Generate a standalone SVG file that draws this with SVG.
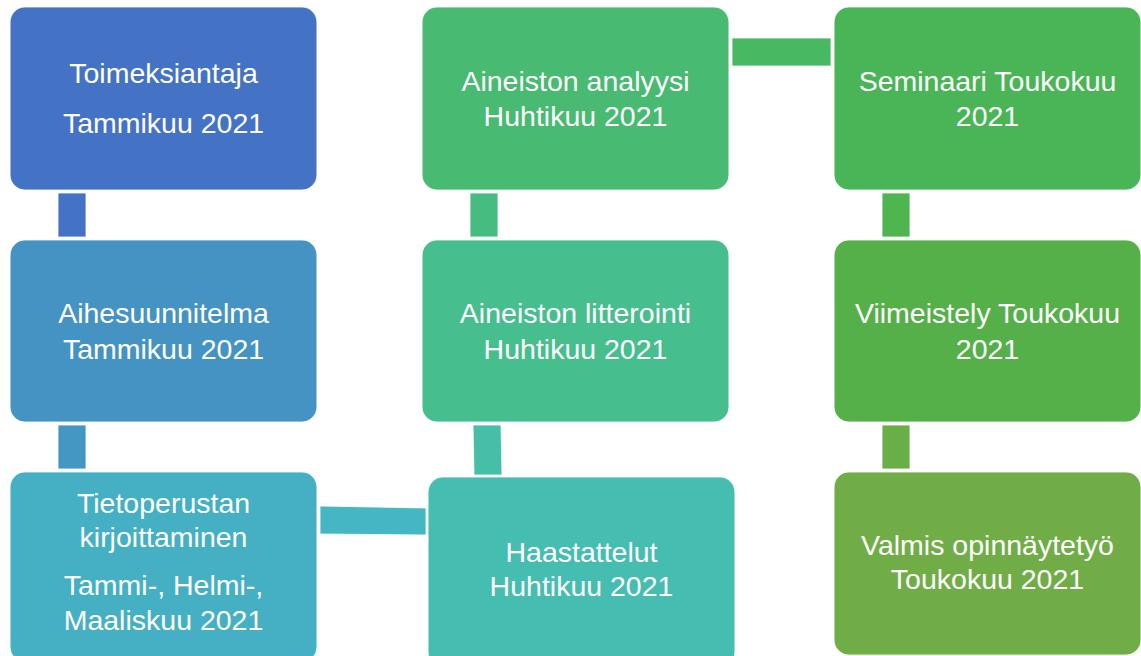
<svg xmlns="http://www.w3.org/2000/svg" width="1141" height="656" viewBox="0 0 1141 656">
<style>
.box{stroke:#ffffff;stroke-width:1.2;stroke-opacity:0.8}
.conn{stroke:#ffffff;stroke-width:1;stroke-opacity:0.8}
text{font-family:"Liberation Sans",Arial,sans-serif;font-size:28.5px;fill:#ffffff;text-anchor:middle}
</style>
<rect width="1141" height="656" fill="#ffffff"/>
<g id="connectors">
<rect class="conn" x="58" y="193" width="28" height="44" fill="#4472C4"/>
<rect class="conn" x="58" y="425" width="28" height="44" fill="#4497C3"/>
<polygon class="conn" points="320,506 426,508 426,535 320,534" fill="#45B6C3"/>
<polygon class="conn" points="473,425 501,425 502,475 474,475" fill="#46BEA8"/>
<rect class="conn" x="470" y="193" width="28" height="44" fill="#47BC80"/>
<rect class="conn" x="732" y="38" width="99" height="28" fill="#49B862"/>
<rect class="conn" x="882" y="193" width="28" height="44" fill="#4FB54E"/>
<rect class="conn" x="882" y="425" width="28" height="44" fill="#6AAE48"/>
</g>
<g id="n1"><rect class="box" x="10" y="7" width="307" height="183" rx="15" fill="#4472C4"/>
<text x="163.5" y="83">Toimeksiantaja</text><text x="163.5" y="133">Tammikuu 2021</text></g>
<g id="n2"><rect class="box" x="10" y="240" width="307" height="182" rx="15" fill="#4593C3"/>
<text x="163.5" y="323">Aihesuunnitelma</text><text x="163.5" y="359">Tammikuu 2021</text></g>
<g id="n3"><rect class="box" x="10" y="472" width="307" height="190" rx="15" fill="#45B0C3"/>
<text x="163.5" y="513">Tietoperustan</text><text x="163.5" y="547">kirjoittaminen</text><text x="163.5" y="595">Tammi-, Helmi-,</text><text x="163.5" y="630">Maaliskuu 2021</text></g>
<g id="n4"><rect class="box" x="428" y="477" width="307" height="190" rx="15" fill="#45BDB0"/>
<text x="581.5" y="562">Haastattelut</text><text x="581.5" y="596">Huhtikuu 2021</text></g>
<g id="n5"><rect class="box" x="422" y="240" width="307" height="182" rx="15" fill="#47BE8E"/>
<text x="575.5" y="323">Aineiston litterointi</text><text x="575.5" y="359">Huhtikuu 2021</text></g>
<g id="n6"><rect class="box" x="422" y="7" width="307" height="183" rx="15" fill="#48BA72"/>
<text x="575.5" y="91">Aineiston analyysi</text><text x="575.5" y="126">Huhtikuu 2021</text></g>
<g id="n7"><rect class="box" x="834" y="7" width="307" height="183" rx="15" fill="#4AB556"/>
<text x="987.5" y="91">Seminaari Toukokuu</text><text x="987.5" y="126">2021</text></g>
<g id="n8"><rect class="box" x="834" y="240" width="307" height="182" rx="15" fill="#56B04A"/>
<text x="987.5" y="323">Viimeistely Toukokuu</text><text x="987.5" y="359">2021</text></g>
<g id="n9"><rect class="box" x="834" y="472" width="307" height="183" rx="15" fill="#70AD47"/>
<text x="987.5" y="555">Valmis opinnäytetyö</text><text x="987.5" y="589">Toukokuu 2021</text></g>
</svg>
